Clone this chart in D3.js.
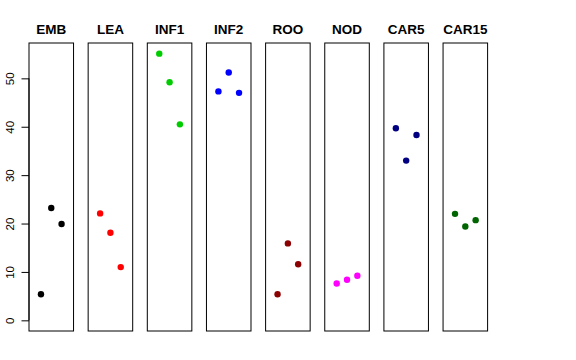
<!DOCTYPE html>
<html><head><meta charset="utf-8">
<script src="https://cdn.jsdelivr.net/npm/d3@7"></script>
<style>body{margin:0;background:#fff}svg{display:block}</style>
</head><body>
<script>
const categories = ["EMB","LEA","INF1","INF2","ROO","NOD","CAR5","CAR15"];
const colors = ["#000000","#FF0000","#00CD00","#0000FF","#8B0000","#FF00FF","#000080","#006400"];
const EMB = [5.4, 23.2, 19.9];
const LEA = [22.1, 18.1, 11.0];
const INF1 = [55.1, 49.2, 40.5];
const INF2 = [47.3, 51.2, 47.0];
const ROO = [5.4, 15.9, 11.6];
const NOD = [7.6, 8.4, 9.2];
const CAR5 = [39.7, 33.0, 38.3];
const CAR15 = [22.0, 19.4, 20.7];
const series = [EMB, LEA, INF1, INF2, ROO, NOD, CAR5, CAR15];
const yTicks = [0, 10, 20, 30, 40, 50];

const W = 576, H = 360;
const svg = d3.select("body").append("svg").attr("width", W).attr("height", H);

const ymax = d3.max(series.flat());
const ext = ymax * 0.04;
const y = d3.scaleLinear().domain([0 - ext, ymax + ext]).range([331, 43]);
const band = d3.scaleBand().domain(categories).range([29, 487.6]).paddingInner(0.247).paddingOuter(0);
const xi = d3.scaleLinear().domain([-0.16, 4.16]).range([0, band.bandwidth()]);

categories.forEach((c, i) => {
  const g = svg.append("g").attr("transform", `translate(${band(c)},0)`);
  g.append("rect").attr("x", 0).attr("y", y.range()[1]).attr("width", band.bandwidth())
    .attr("height", y.range()[0] - y.range()[1]).attr("fill", "none").attr("stroke", "#000").attr("stroke-width", 1);
  g.append("text").attr("x", band.bandwidth() / 2).attr("y", 34).attr("text-anchor", "middle")
    .attr("font-family", "Liberation Sans, Arial, sans-serif").attr("font-weight", "bold").attr("font-size", 13.5)
    .text(c);
  g.selectAll("circle").data(series[i]).join("circle")
    .attr("cx", (d, j) => xi(j + 1)).attr("cy", d => y(d)).attr("r", 3.2).attr("fill", colors[i]);
});

// y axis
const ax = svg.append("g").attr("transform", `translate(${band(categories[0])},0)`);
ax.append("line").attr("x1", 0).attr("x2", 0).attr("y1", y(0)).attr("y2", y(50)).attr("stroke", "#000");
const axis = d3.axisLeft(y).tickValues(yTicks).tickSize(7.5).tickFormat(d3.format("d"));
const ag = ax.append("g").call(axis);
ag.select(".domain").remove();
ag.selectAll(".tick line").attr("stroke", "#000");
ag.selectAll(".tick text").attr("x", null).attr("dy", null)
  .attr("transform", "translate(-15,0) rotate(-90)").attr("text-anchor", "middle")
  .attr("font-family", "Liberation Sans, Arial, sans-serif").attr("font-size", 11.5).attr("fill", "#000");
</script>
</body></html>
